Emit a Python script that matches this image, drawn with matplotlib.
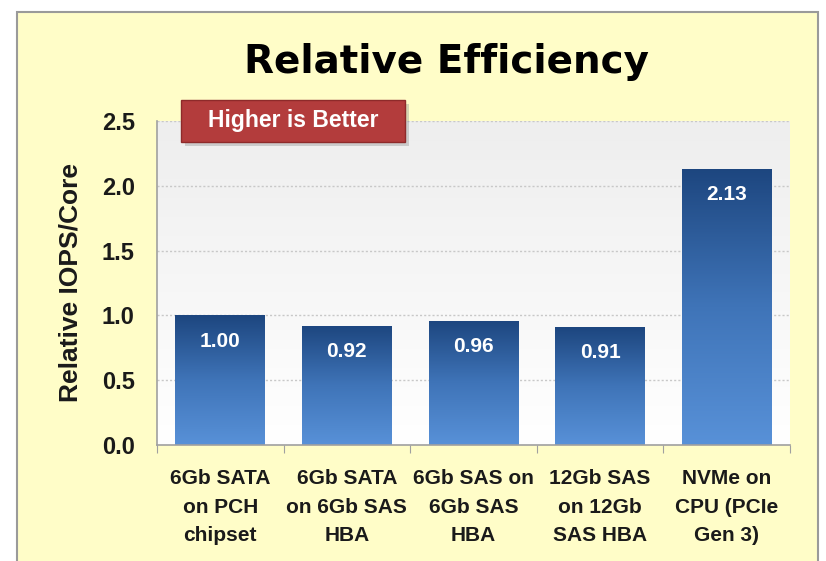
import numpy as np
import matplotlib
matplotlib.use("Agg")
import matplotlib.pyplot as plt
from matplotlib.patches import Rectangle, FancyBboxPatch
from matplotlib.colors import LinearSegmentedColormap

plt.rcParams['font.family'] = ['Liberation Sans', 'DejaVu Sans']

categories = ["6Gb SATA\non PCH\nchipset", "6Gb SATA\non 6Gb SAS\nHBA",
              "6Gb SAS on\n6Gb SAS\nHBA", "12Gb SAS\non 12Gb\nSAS HBA",
              "NVMe on\nCPU (PCIe\nGen 3)"]
values = [1.00, 0.92, 0.96, 0.91, 2.13]
labels = ["1.00", "0.92", "0.96", "0.91", "2.13"]
yticks = [0.0, 0.5, 1.0, 1.5, 2.0, 2.5]

fig = plt.figure(figsize=(8.26, 5.61), dpi=100)
fig.patch.set_facecolor("white")

# yellow panel with grey border (runs off the bottom)
panel = Rectangle((17 / 826, -0.05), (818 - 17) / 826, (561 - 12) / 561 + 0.05,
                  transform=fig.transFigure, facecolor="#FFFDC8",
                  edgecolor="#9A9A9A", linewidth=1.5, zorder=-10)
fig.patches.append(panel)

ax = fig.add_axes([157 / 826, 1 - 445 / 561, (790 - 157) / 826, (445 - 121) / 561])
ax.set_facecolor("none")
ax.set_zorder(1)

# plot area gradient (light grey top -> white bottom)
bg = LinearSegmentedColormap.from_list("bg", ["#FFFFFF", "#EEEEEE"])
ax.imshow(np.linspace(0, 1, 256).reshape(-1, 1), cmap=bg, origin="lower",
          extent=(-0.5, len(values) - 0.5, 0, 2.5), aspect="auto", zorder=0)

for y in yticks[1:]:
    ax.axhline(y, color="#C8C8C8", linestyle=(0, (1.5, 1.5)), linewidth=1, zorder=1)

barcm = LinearSegmentedColormap.from_list("bar", ["#5891D8", "#3F74B8", "#1D467F"])
x = np.arange(len(values))
bars = ax.bar(x, values, width=0.71, color="none", edgecolor="none", zorder=2)
for b, v, lab in zip(bars, values, labels):
    im = ax.imshow(np.linspace(0, 1, 256).reshape(-1, 1), cmap=barcm, origin="lower",
                   extent=(b.get_x(), b.get_x() + b.get_width(), 0, v),
                   aspect="auto", zorder=2)
    im.set_clip_path(b)
    ax.text(b.get_x() + b.get_width() / 2, v - 0.2, lab, ha="center", va="center",
            color="white", fontsize=15, fontweight="bold", zorder=3)
ax.set_xlim(-0.5, len(values) - 0.5)
ax.set_ylim(0, 2.5)

for s in ["top", "right"]:
    ax.spines[s].set_visible(False)
for s in ["left", "bottom"]:
    ax.spines[s].set_color("#A0A0A0")
    ax.spines[s].set_linewidth(1.2)

ax.set_yticks(yticks)
ax.set_yticklabels([f"{t:.1f}" for t in yticks], fontsize=17, fontweight="bold",
                   color="#1A1A1A")
ax.tick_params(axis="y", length=0, pad=16)
ax.set_xticks(np.arange(-0.5, len(values), 1.0))
ax.set_xticklabels([])
ax.tick_params(axis="x", length=6, color="#A0A0A0", direction="out")
for xi, c in zip(x, categories):
    ax.text(xi, -0.185, c, ha="center", va="top", fontsize=15, fontweight="bold",
            linespacing=1.65, color="#1A1A1A", transform=ax.transData, clip_on=False)

ax.set_ylabel("Relative IOPS/Core", fontsize=19, fontweight="bold", labelpad=14,
              color="#1A1A1A")

fig.text((237 + 655) / 2 / 826, 1 - 62 / 561, "Relative Efficiency", ha="center",
         va="center", fontsize=28, fontweight="bold", color="black",
         family="DejaVu Sans")

# "Higher is Better" badge
shadow = FancyBboxPatch((185 / 826, 1 - 146 / 561), (405 - 181) / 826, (142 - 100) / 561,
                        boxstyle="square,pad=0", transform=fig.transFigure,
                        facecolor="#888888", edgecolor="none", alpha=0.35, zorder=4)
badge = FancyBboxPatch((181 / 826, 1 - 142 / 561), (405 - 181) / 826, (142 - 100) / 561,
                       boxstyle="square,pad=0", transform=fig.transFigure,
                       facecolor="#B33C3C", edgecolor="#8E2A2A", linewidth=1, zorder=5)
fig.patches.extend([shadow, badge])
fig.text(293 / 826, 1 - 121 / 561, "Higher is Better", ha="center", va="center",
         fontsize=16.5, fontweight="bold", color="white", zorder=6)

fig.savefig("out.png", dpi=100)
